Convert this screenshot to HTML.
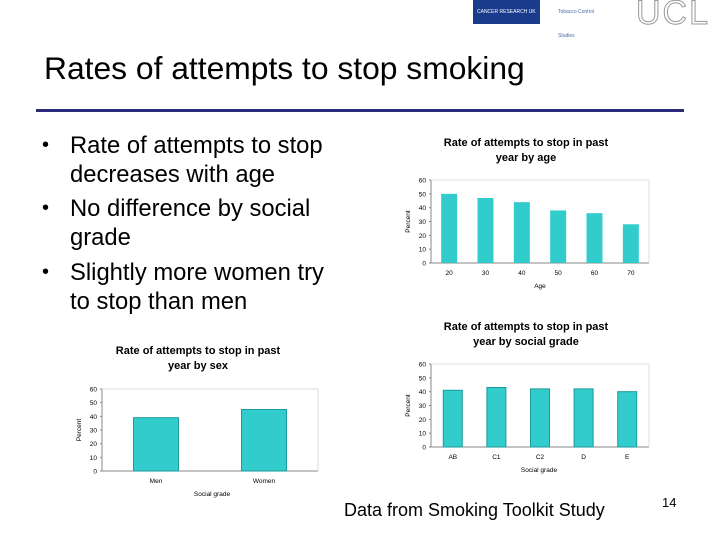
<!DOCTYPE html>
<html><head><meta charset="utf-8"><style>
body{margin:0;width:720px;height:540px;background:#fff;position:relative;overflow:hidden;font-family:"Liberation Sans",sans-serif}
.abs{position:absolute}
.bul{position:absolute;left:70px;font-size:23.8px;color:#000;line-height:29px;width:330px;white-space:nowrap}
.dot{position:absolute;left:42px;font-size:20px;line-height:29px}
</style></head><body>
<div class="abs" style="left:473px;top:0;width:67px;height:24px;background:#1a3a8c;color:#fff;font-size:5px;line-height:24px;padding-left:4px;box-sizing:border-box">CANCER RESEARCH UK</div>
<div class="abs" style="left:540px;top:0;width:72px;height:24px;background:#fff;color:#4a6aa8;font-size:5px;line-height:24px;padding-left:18px;box-sizing:border-box">Tobacco Control Studies</div>
<div class="abs" style="left:636px;top:-6px;font-size:34px;color:#fff;-webkit-text-stroke:1px #999;letter-spacing:2px">UCL</div>
<div class="abs" style="left:44px;top:50px;font-size:31.8px;color:#000;white-space:nowrap">Rates of attempts to stop smoking</div>
<div class="abs" style="left:36px;top:109px;width:648px;height:3px;background:#2a2a7a"></div>
<div class="dot" style="top:131px">•</div>
<div class="bul" style="top:131px">Rate of attempts to stop<br>decreases with age</div>
<div class="dot" style="top:194px">•</div>
<div class="bul" style="top:194px">No difference by social<br>grade</div>
<div class="dot" style="top:258px">•</div>
<div class="bul" style="top:258px">Slightly more women try<br>to stop than men</div>
<div class="abs" style="left:344px;top:500px;font-size:18px;white-space:nowrap">Data from Smoking Toolkit Study</div>
<div class="abs" style="left:662px;top:495px;font-size:13px">14</div>
<svg class="abs" style="left:0;top:0" width="720" height="540" id="charts"></svg>
<script>
const ageCats=["20","30","40","50","60","70"];
const ageVals=[50,47,44,38,36,28];
const gradeCats=["AB","C1","C2","D","E"];
const gradeVals=[41,43,42,42,40];
const sexCats=["Men","Women"];
const sexVals=[39,45];
const yTicks=[0,10,20,30,40,50,60];
const NS="http://www.w3.org/2000/svg";
const svg=document.getElementById('charts');
function mk(t,a,txt){const e=document.createElementNS(NS,t);for(const k in a)e.setAttribute(k,a[k]);if(txt!=null)e.textContent=txt;svg.appendChild(e);return e;}
function chart(o){
 const y=v=>o.y0-(o.y0-o.y60)*v/60;
 const bw=(o.x1-o.x0)/o.cats.length;
 mk('line',{x1:o.x0,y1:o.y60,x2:o.x0,y2:o.y0,stroke:'#888','stroke-width':1});
 mk('line',{x1:o.x0,y1:o.y0,x2:o.x1,y2:o.y0,stroke:'#888','stroke-width':1});
 mk('line',{x1:o.x0,y1:o.y60,x2:o.x1,y2:o.y60,stroke:'#ddd','stroke-width':1});
 mk('line',{x1:o.x1,y1:o.y60,x2:o.x1,y2:o.y0,stroke:'#ddd','stroke-width':1});
 yTicks.forEach(t=>{
  const l=mk('text',{x:o.x0-5,y:y(t)+2.5,'font-size':6.5,'text-anchor':'end',fill:'#000'},t);
  
  
  mk('line',{x1:o.x0-2,y1:y(t),x2:o.x0,y2:y(t),stroke:'#888'});
 });
 o.cats.forEach((c,i)=>{
  const cx=o.x0+bw*(i+0.5);
  const r=mk('rect',{x:cx-o.w/2,y:y(o.vals[i]),width:o.w,height:o.y0-y(o.vals[i]),fill:'#33cccc',stroke:o.stroke||'none','stroke-width':1});
  
  
  const l=mk('text',{x:cx,y:o.y0+12,'font-size':6.5,'text-anchor':'middle'},c);
  
  
 });
 const t1=mk('text',{x:o.tx,y:o.ty,'font-size':11,'font-weight':'bold','text-anchor':'middle'},o.t1);
 
 
 mk('text',{x:o.tx,y:o.ty+15,'font-size':11,'font-weight':'bold','text-anchor':'middle'},o.t2);
 const xl=mk('text',{x:o.xlx,y:o.y0+25,'font-size':6.5,'text-anchor':'middle'},o.xl);
 
 
 const yl=mk('text',{x:0,y:0,'font-size':6.5,'text-anchor':'middle',transform:`translate(${o.x0-21},${(o.y0+o.y60)/2}) rotate(-90)`},'Percent');
 
 
}
chart({cats:ageCats,vals:ageVals,x0:431,x1:649,y0:263,y60:180,w:16,tx:526,ty:146,t1:'Rate of attempts to stop in past',t2:'year by age',xl:'Age',xlx:540});
chart({cats:gradeCats,vals:gradeVals,x0:431,x1:649,y0:447,y60:364,w:19,stroke:'#1a9a9a',tx:526,ty:330,t1:'Rate of attempts to stop in past',t2:'year by social grade',xl:'Social grade',xlx:539});
chart({cats:sexCats,vals:sexVals,x0:102,x1:318,y0:471,y60:389,w:45,stroke:'#1a9a9a',tx:198,ty:354,t1:'Rate of attempts to stop in past',t2:'year by sex',xl:'Social grade',xlx:212});
</script>
</body></html>
